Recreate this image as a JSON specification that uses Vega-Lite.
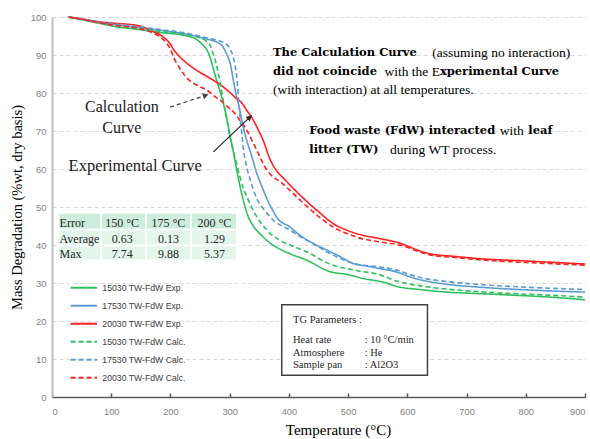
{
"$schema":"https://vega.github.io/schema/vega-lite/v6.json",
"width":533,"height":380,
"autosize":{"type":"none"},
"padding":{"left":52,"top":17,"right":5,"bottom":42},
"background":"white",
"config":{"view":{"stroke":null},
"legend":{"orient":"none","legendX":17.3,"legendY":262,"symbolType":"stroke","symbolSize":700,"symbolStrokeWidth":2,"clipHeight":17.7,"rowPadding":0,"labelFont":"Liberation Sans","labelFontSize":8.7,"labelColor":"#404040","labelOffset":4,"padding":0,"labelLimit":300}},
"encoding":{
"x":{"field":"T","type":"quantitative","scale":{"domain":[0,900],"nice":false},
"axis":{"values":[0,100,200,300,400,500,600,700,800,900],"grid":false,"domainColor":"#595959","domainWidth":1.5,"tickColor":"#595959","tickWidth":1.5,"tickSize":-4,"labelFont":"Liberation Sans","labelFontSize":9.3,"labelColor":"#7f7f7f","labelPadding":14,"title":"Temperature (°C)","titleFont":"Liberation Serif","titleFontSize":15,"titleFontWeight":"normal","titleColor":"#000000","titlePadding":6,"titleX":286}},
"y":{"field":"m","type":"quantitative","scale":{"domain":[0,100],"nice":false},
"axis":{"values":[0,10,20,30,40,50,60,70,80,90,100],"grid":true,"gridDash":[4,3],"gridColor":"#d9d9d9","domainColor":"#bfbfbf","domainWidth":2,"ticks":false,"labelFont":"Liberation Sans","labelFontSize":9.5,"labelColor":"#7f7f7f","labelPadding":6,"title":"Mass Degradation (%wt, dry basis)","titleFont":"Liberation Serif","titleFontSize":14.5,"titleFontWeight":"normal","titleColor":"#000000","titlePadding":6}}
},
"layer":[
{"data":{"values":[
{"s":"15030 TW-FdW Exp.","T":28,"m":100},{"s":"15030 TW-FdW Exp.","T":50,"m":99.3},{"s":"15030 TW-FdW Exp.","T":81.5,"m":98.3},{"s":"15030 TW-FdW Exp.","T":110,"m":97.4},{"s":"15030 TW-FdW Exp.","T":143,"m":96.8},{"s":"15030 TW-FdW Exp.","T":177,"m":96.0},{"s":"15030 TW-FdW Exp.","T":222,"m":95.2},{"s":"15030 TW-FdW Exp.","T":244,"m":94.1},{"s":"15030 TW-FdW Exp.","T":255,"m":92.6},{"s":"15030 TW-FdW Exp.","T":262,"m":91.2},{"s":"15030 TW-FdW Exp.","T":267,"m":89.4},{"s":"15030 TW-FdW Exp.","T":272,"m":86.6},{"s":"15030 TW-FdW Exp.","T":278,"m":83.3},{"s":"15030 TW-FdW Exp.","T":284,"m":80.3},{"s":"15030 TW-FdW Exp.","T":289,"m":77.5},{"s":"15030 TW-FdW Exp.","T":295,"m":73.4},{"s":"15030 TW-FdW Exp.","T":300,"m":69.3},{"s":"15030 TW-FdW Exp.","T":306,"m":64.7},{"s":"15030 TW-FdW Exp.","T":311,"m":60.5},{"s":"15030 TW-FdW Exp.","T":317,"m":55.8},{"s":"15030 TW-FdW Exp.","T":323,"m":51.8},{"s":"15030 TW-FdW Exp.","T":330,"m":48},{"s":"15030 TW-FdW Exp.","T":340,"m":45},{"s":"15030 TW-FdW Exp.","T":352,"m":42.8},{"s":"15030 TW-FdW Exp.","T":374,"m":39.9},{"s":"15030 TW-FdW Exp.","T":402,"m":37.7},{"s":"15030 TW-FdW Exp.","T":430,"m":36},{"s":"15030 TW-FdW Exp.","T":469,"m":33},{"s":"15030 TW-FdW Exp.","T":500,"m":32.2},{"s":"15030 TW-FdW Exp.","T":525,"m":31.2},{"s":"15030 TW-FdW Exp.","T":560,"m":30.2},{"s":"15030 TW-FdW Exp.","T":585,"m":29},{"s":"15030 TW-FdW Exp.","T":620,"m":28.3},{"s":"15030 TW-FdW Exp.","T":666,"m":27.6},{"s":"15030 TW-FdW Exp.","T":722,"m":27.2},{"s":"15030 TW-FdW Exp.","T":778,"m":26.8},{"s":"15030 TW-FdW Exp.","T":840,"m":26.3},{"s":"15030 TW-FdW Exp.","T":900,"m":25.6},
{"s":"17530 TW-FdW Exp.","T":28,"m":100},{"s":"17530 TW-FdW Exp.","T":50,"m":99.4},{"s":"17530 TW-FdW Exp.","T":81.5,"m":98.6},{"s":"17530 TW-FdW Exp.","T":110,"m":97.9},{"s":"17530 TW-FdW Exp.","T":143,"m":97.3},{"s":"17530 TW-FdW Exp.","T":177,"m":96.6},{"s":"17530 TW-FdW Exp.","T":222,"m":95.6},{"s":"17530 TW-FdW Exp.","T":244,"m":94.9},{"s":"17530 TW-FdW Exp.","T":261,"m":94.2},{"s":"17530 TW-FdW Exp.","T":280,"m":93.3},{"s":"17530 TW-FdW Exp.","T":289,"m":92.1},{"s":"17530 TW-FdW Exp.","T":295,"m":90.2},{"s":"17530 TW-FdW Exp.","T":301,"m":87.7},{"s":"17530 TW-FdW Exp.","T":306,"m":83.5},{"s":"17530 TW-FdW Exp.","T":311,"m":79.5},{"s":"17530 TW-FdW Exp.","T":315,"m":77},{"s":"17530 TW-FdW Exp.","T":320,"m":73.2},{"s":"17530 TW-FdW Exp.","T":327,"m":68.5},{"s":"17530 TW-FdW Exp.","T":335,"m":64.5},{"s":"17530 TW-FdW Exp.","T":346,"m":58.8},{"s":"17530 TW-FdW Exp.","T":357,"m":54.4},{"s":"17530 TW-FdW Exp.","T":364,"m":51.8},{"s":"17530 TW-FdW Exp.","T":372,"m":49.3},{"s":"17530 TW-FdW Exp.","T":380,"m":47.2},{"s":"17530 TW-FdW Exp.","T":402,"m":44.7},{"s":"17530 TW-FdW Exp.","T":420,"m":42.4},{"s":"17530 TW-FdW Exp.","T":441,"m":40.4},{"s":"17530 TW-FdW Exp.","T":465,"m":38.6},{"s":"17530 TW-FdW Exp.","T":486,"m":37},{"s":"17530 TW-FdW Exp.","T":509,"m":35.1},{"s":"17530 TW-FdW Exp.","T":530,"m":34.5},{"s":"17530 TW-FdW Exp.","T":553,"m":33.8},{"s":"17530 TW-FdW Exp.","T":582,"m":32.9},{"s":"17530 TW-FdW Exp.","T":605,"m":31.6},{"s":"17530 TW-FdW Exp.","T":626,"m":30.7},{"s":"17530 TW-FdW Exp.","T":660,"m":29.8},{"s":"17530 TW-FdW Exp.","T":722,"m":28.9},{"s":"17530 TW-FdW Exp.","T":800,"m":28.2},{"s":"17530 TW-FdW Exp.","T":900,"m":27.6},
{"s":"20030 TW-FdW Exp.","T":28,"m":100},{"s":"20030 TW-FdW Exp.","T":50,"m":99.5},{"s":"20030 TW-FdW Exp.","T":81.5,"m":98.7},{"s":"20030 TW-FdW Exp.","T":110,"m":98.3},{"s":"20030 TW-FdW Exp.","T":127,"m":98.1},{"s":"20030 TW-FdW Exp.","T":143,"m":97.8},{"s":"20030 TW-FdW Exp.","T":155,"m":97.3},{"s":"20030 TW-FdW Exp.","T":166,"m":96.5},{"s":"20030 TW-FdW Exp.","T":177,"m":95.8},{"s":"20030 TW-FdW Exp.","T":188,"m":94.7},{"s":"20030 TW-FdW Exp.","T":195,"m":93.8},{"s":"20030 TW-FdW Exp.","T":200,"m":92.8},{"s":"20030 TW-FdW Exp.","T":205,"m":91.5},{"s":"20030 TW-FdW Exp.","T":211,"m":90.3},{"s":"20030 TW-FdW Exp.","T":222,"m":88.6},{"s":"20030 TW-FdW Exp.","T":233,"m":87.2},{"s":"20030 TW-FdW Exp.","T":247,"m":85.7},{"s":"20030 TW-FdW Exp.","T":261,"m":84.4},{"s":"20030 TW-FdW Exp.","T":275,"m":83.1},{"s":"20030 TW-FdW Exp.","T":289,"m":81.6},{"s":"20030 TW-FdW Exp.","T":300,"m":80.2},{"s":"20030 TW-FdW Exp.","T":312,"m":78.5},{"s":"20030 TW-FdW Exp.","T":320,"m":77.5},{"s":"20030 TW-FdW Exp.","T":329,"m":75.4},{"s":"20030 TW-FdW Exp.","T":338,"m":73.4},{"s":"20030 TW-FdW Exp.","T":347,"m":70.7},{"s":"20030 TW-FdW Exp.","T":357,"m":67.4},{"s":"20030 TW-FdW Exp.","T":368,"m":62.6},{"s":"20030 TW-FdW Exp.","T":379,"m":59.6},{"s":"20030 TW-FdW Exp.","T":392,"m":57.4},{"s":"20030 TW-FdW Exp.","T":410,"m":54.5},{"s":"20030 TW-FdW Exp.","T":430,"m":51.5},{"s":"20030 TW-FdW Exp.","T":452,"m":48.5},{"s":"20030 TW-FdW Exp.","T":475,"m":45.6},{"s":"20030 TW-FdW Exp.","T":498,"m":43.9},{"s":"20030 TW-FdW Exp.","T":514,"m":43},{"s":"20030 TW-FdW Exp.","T":553,"m":41.7},{"s":"20030 TW-FdW Exp.","T":580,"m":40.8},{"s":"20030 TW-FdW Exp.","T":598,"m":39.9},{"s":"20030 TW-FdW Exp.","T":615,"m":38.8},{"s":"20030 TW-FdW Exp.","T":638,"m":37.7},{"s":"20030 TW-FdW Exp.","T":680,"m":37},{"s":"20030 TW-FdW Exp.","T":722,"m":36.4},{"s":"20030 TW-FdW Exp.","T":800,"m":35.8},{"s":"20030 TW-FdW Exp.","T":900,"m":35},
{"s":"15030 TW-FdW Calc.","T":28,"m":100},{"s":"15030 TW-FdW Calc.","T":50,"m":99.4},{"s":"15030 TW-FdW Calc.","T":81.5,"m":98.5},{"s":"15030 TW-FdW Calc.","T":110,"m":97.6},{"s":"15030 TW-FdW Calc.","T":143,"m":97},{"s":"15030 TW-FdW Calc.","T":177,"m":96.3},{"s":"15030 TW-FdW Calc.","T":222,"m":95.5},{"s":"15030 TW-FdW Calc.","T":244,"m":94.8},{"s":"15030 TW-FdW Calc.","T":261,"m":93.6},{"s":"15030 TW-FdW Calc.","T":268,"m":92.3},{"s":"15030 TW-FdW Calc.","T":272,"m":90.4},{"s":"15030 TW-FdW Calc.","T":277,"m":87.8},{"s":"15030 TW-FdW Calc.","T":281,"m":85.1},{"s":"15030 TW-FdW Calc.","T":285,"m":81.8},{"s":"15030 TW-FdW Calc.","T":289,"m":78.1},{"s":"15030 TW-FdW Calc.","T":295,"m":73.2},{"s":"15030 TW-FdW Calc.","T":300,"m":68.8},{"s":"15030 TW-FdW Calc.","T":306,"m":64.9},{"s":"15030 TW-FdW Calc.","T":312,"m":61.2},{"s":"15030 TW-FdW Calc.","T":318,"m":57.6},{"s":"15030 TW-FdW Calc.","T":324,"m":54.6},{"s":"15030 TW-FdW Calc.","T":331,"m":52},{"s":"15030 TW-FdW Calc.","T":340,"m":49},{"s":"15030 TW-FdW Calc.","T":346,"m":47.4},{"s":"15030 TW-FdW Calc.","T":363,"m":43.9},{"s":"15030 TW-FdW Calc.","T":385,"m":41.2},{"s":"15030 TW-FdW Calc.","T":402,"m":40},{"s":"15030 TW-FdW Calc.","T":430,"m":38.2},{"s":"15030 TW-FdW Calc.","T":469,"m":35},{"s":"15030 TW-FdW Calc.","T":514,"m":33.3},{"s":"15030 TW-FdW Calc.","T":553,"m":32.2},{"s":"15030 TW-FdW Calc.","T":582,"m":30.5},{"s":"15030 TW-FdW Calc.","T":620,"m":29.3},{"s":"15030 TW-FdW Calc.","T":666,"m":28.4},{"s":"15030 TW-FdW Calc.","T":722,"m":27.7},{"s":"15030 TW-FdW Calc.","T":778,"m":27.2},{"s":"15030 TW-FdW Calc.","T":840,"m":26.8},{"s":"15030 TW-FdW Calc.","T":900,"m":26.3},
{"s":"17530 TW-FdW Calc.","T":28,"m":100},{"s":"17530 TW-FdW Calc.","T":50,"m":99.5},{"s":"17530 TW-FdW Calc.","T":81.5,"m":98.7},{"s":"17530 TW-FdW Calc.","T":110,"m":98.1},{"s":"17530 TW-FdW Calc.","T":143,"m":97.5},{"s":"17530 TW-FdW Calc.","T":177,"m":96.8},{"s":"17530 TW-FdW Calc.","T":222,"m":95.9},{"s":"17530 TW-FdW Calc.","T":261,"m":94.5},{"s":"17530 TW-FdW Calc.","T":285,"m":93.6},{"s":"17530 TW-FdW Calc.","T":295,"m":92.8},{"s":"17530 TW-FdW Calc.","T":301,"m":91.5},{"s":"17530 TW-FdW Calc.","T":306,"m":89.5},{"s":"17530 TW-FdW Calc.","T":310,"m":86.5},{"s":"17530 TW-FdW Calc.","T":313,"m":82.5},{"s":"17530 TW-FdW Calc.","T":315,"m":78.5},{"s":"17530 TW-FdW Calc.","T":317,"m":74.8},{"s":"17530 TW-FdW Calc.","T":320,"m":70},{"s":"17530 TW-FdW Calc.","T":323,"m":65.5},{"s":"17530 TW-FdW Calc.","T":328,"m":61},{"s":"17530 TW-FdW Calc.","T":335,"m":57},{"s":"17530 TW-FdW Calc.","T":345,"m":52.5},{"s":"17530 TW-FdW Calc.","T":357,"m":49.5},{"s":"17530 TW-FdW Calc.","T":374,"m":46.5},{"s":"17530 TW-FdW Calc.","T":402,"m":43.9},{"s":"17530 TW-FdW Calc.","T":420,"m":42.1},{"s":"17530 TW-FdW Calc.","T":441,"m":40.4},{"s":"17530 TW-FdW Calc.","T":465,"m":38.1},{"s":"17530 TW-FdW Calc.","T":486,"m":36.5},{"s":"17530 TW-FdW Calc.","T":514,"m":35},{"s":"17530 TW-FdW Calc.","T":553,"m":34.2},{"s":"17530 TW-FdW Calc.","T":582,"m":33.4},{"s":"17530 TW-FdW Calc.","T":605,"m":32.2},{"s":"17530 TW-FdW Calc.","T":626,"m":31.3},{"s":"17530 TW-FdW Calc.","T":660,"m":30.5},{"s":"17530 TW-FdW Calc.","T":722,"m":29.6},{"s":"17530 TW-FdW Calc.","T":800,"m":28.9},{"s":"17530 TW-FdW Calc.","T":900,"m":28.3},
{"s":"20030 TW-FdW Calc.","T":28,"m":100},{"s":"20030 TW-FdW Calc.","T":50,"m":99.4},{"s":"20030 TW-FdW Calc.","T":81.5,"m":98.4},{"s":"20030 TW-FdW Calc.","T":110,"m":97.7},{"s":"20030 TW-FdW Calc.","T":143,"m":97.1},{"s":"20030 TW-FdW Calc.","T":166,"m":96.1},{"s":"20030 TW-FdW Calc.","T":183,"m":94.7},{"s":"20030 TW-FdW Calc.","T":194,"m":93},{"s":"20030 TW-FdW Calc.","T":200,"m":91.5},{"s":"20030 TW-FdW Calc.","T":205,"m":89.5},{"s":"20030 TW-FdW Calc.","T":213,"m":87.2},{"s":"20030 TW-FdW Calc.","T":222,"m":85.1},{"s":"20030 TW-FdW Calc.","T":233,"m":83.2},{"s":"20030 TW-FdW Calc.","T":244,"m":82.1},{"s":"20030 TW-FdW Calc.","T":261,"m":80.8},{"s":"20030 TW-FdW Calc.","T":278,"m":78.7},{"s":"20030 TW-FdW Calc.","T":289,"m":77.5},{"s":"20030 TW-FdW Calc.","T":298,"m":76.2},{"s":"20030 TW-FdW Calc.","T":309,"m":74.6},{"s":"20030 TW-FdW Calc.","T":319,"m":72.4},{"s":"20030 TW-FdW Calc.","T":329,"m":70.2},{"s":"20030 TW-FdW Calc.","T":337,"m":67.7},{"s":"20030 TW-FdW Calc.","T":346,"m":64.9},{"s":"20030 TW-FdW Calc.","T":354,"m":62.2},{"s":"20030 TW-FdW Calc.","T":363,"m":59.7},{"s":"20030 TW-FdW Calc.","T":375,"m":57.7},{"s":"20030 TW-FdW Calc.","T":385,"m":56.7},{"s":"20030 TW-FdW Calc.","T":396,"m":55.2},{"s":"20030 TW-FdW Calc.","T":419,"m":51.8},{"s":"20030 TW-FdW Calc.","T":430,"m":50.2},{"s":"20030 TW-FdW Calc.","T":452,"m":47.3},{"s":"20030 TW-FdW Calc.","T":475,"m":44.7},{"s":"20030 TW-FdW Calc.","T":498,"m":43},{"s":"20030 TW-FdW Calc.","T":514,"m":42.1},{"s":"20030 TW-FdW Calc.","T":553,"m":40.8},{"s":"20030 TW-FdW Calc.","T":580,"m":40.2},{"s":"20030 TW-FdW Calc.","T":598,"m":39.5},{"s":"20030 TW-FdW Calc.","T":615,"m":38.5},{"s":"20030 TW-FdW Calc.","T":638,"m":37.4},{"s":"20030 TW-FdW Calc.","T":680,"m":36.7},{"s":"20030 TW-FdW Calc.","T":722,"m":36.1},{"s":"20030 TW-FdW Calc.","T":800,"m":35.4},{"s":"20030 TW-FdW Calc.","T":900,"m":34.7}
]},
"mark":{"type":"line","strokeWidth":1.6,"interpolate":"monotone"},
"encoding":{
"color":{"field":"s","type":"nominal","title":null,"scale":{"domain":["15030 TW-FdW Exp.","17530 TW-FdW Exp.","20030 TW-FdW Exp.","15030 TW-FdW Calc.","17530 TW-FdW Calc.","20030 TW-FdW Calc."],"range":["#2fbf5f","#5b9bd5","#ff2020","#2fbf5f","#5b9bd5","#ff2020"]}},
"strokeDash":{"field":"s","type":"nominal","title":null,"scale":{"domain":["15030 TW-FdW Exp.","17530 TW-FdW Exp.","20030 TW-FdW Exp.","15030 TW-FdW Calc.","17530 TW-FdW Calc.","20030 TW-FdW Calc."],"range":[[1,0],[1,0],[1,0],[5,3],[5,3],[5,3]]}}
}},
{"data":{"values":[{"T":11.1,"T2":83.1,"m":44.05,"m2":48.4},{"T":83.1,"T2":159,"m":44.05,"m2":48.4},{"T":159,"T2":235,"m":44.05,"m2":48.4},{"T":235,"T2":312,"m":44.05,"m2":48.4}]},
"mark":{"type":"rect","fill":"#cdeedc","stroke":"white","strokeWidth":1.5},
"encoding":{"x2":{"field":"T2"},"y2":{"field":"m2"}}},
{"data":{"values":[{"T":11.1,"T2":83.1,"m":39.9,"m2":44.05},{"T":83.1,"T2":159,"m":39.9,"m2":44.05},{"T":159,"T2":235,"m":39.9,"m2":44.05},{"T":235,"T2":312,"m":39.9,"m2":44.05},{"T":11.1,"T2":83.1,"m":35.97,"m2":39.9},{"T":83.1,"T2":159,"m":35.97,"m2":39.9},{"T":159,"T2":235,"m":35.97,"m2":39.9},{"T":235,"T2":312,"m":35.97,"m2":39.9}]},
"mark":{"type":"rect","fill":"#e4f5ec","stroke":"white","strokeWidth":1.5},
"encoding":{"x2":{"field":"T2"},"y2":{"field":"m2"}}},
{"data":{"values":[{"T":12.8,"m":45.8,"label":"Error"},{"T":12.8,"m":41.7,"label":"Average"},{"T":12.8,"m":37.6,"label":"Max"}]},
"mark":{"type":"text","font":"Liberation Serif","fontSize":12,"color":"#262626","align":"left","baseline":"middle"},
"encoding":{"text":{"field":"label"}}},
{"data":{"values":[{"T":118.5,"m":45.8,"label":"150 °C"},{"T":196.6,"m":45.8,"label":"175 °C"},{"T":274.2,"m":45.8,"label":"200 °C"},{"T":118.5,"m":41.7,"label":"0.63"},{"T":196.6,"m":41.7,"label":"0.13"},{"T":274.2,"m":41.7,"label":"1.29"},{"T":118.5,"m":37.6,"label":"7.74"},{"T":196.6,"m":37.6,"label":"9.88"},{"T":274.2,"m":37.6,"label":"5.37"}]},
"mark":{"type":"text","font":"Liberation Serif","fontSize":12,"color":"#262626","align":"center","baseline":"middle"},
"encoding":{"text":{"field":"label"}}},
{"data":{"values":[{"T":387.9,"T2":634,"m":5.7,"m2":24.3}]},
"mark":{"type":"rect","fill":"white","stroke":"#404040","strokeWidth":1.5},
"encoding":{"x2":{"field":"T2"},"y2":{"field":"m2"}}},
{"data":{"values":[{"T":407,"m":20.2,"label":"TG Parameters :"},{"T":407,"m":15.1,"label":"Heat rate"},{"T":407,"m":11.6,"label":"Atmosphere"},{"T":407,"m":8.3,"label":"Sample pan"},{"T":528,"m":15.1,"label":": 10 °C/min"},{"T":528,"m":11.6,"label":": He"},{"T":528,"m":8.3,"label":": Al2O3"}]},
"mark":{"type":"text","font":"Liberation Serif","fontSize":10.5,"color":"#262626","align":"left","baseline":"middle"},
"encoding":{"text":{"field":"label"}}},
{"data":{"values":[{"T":272.5,"m":64.5,"T2":337.3,"m2":74.1}]},
"mark":{"type":"rule","color":"#262626","strokeWidth":1.2},
"encoding":{"x2":{"field":"T2"},"y2":{"field":"m2"}}},
{"data":{"values":[{"T":199.5,"m":76.3,"T2":264,"m2":79.6}]},
"mark":{"type":"rule","color":"#404040","strokeWidth":1.2,"strokeDash":[4,3]},
"encoding":{"x2":{"field":"T2"},"y2":{"field":"m2"}}},
{"data":{"values":[{"T":259.5,"m":79.35}]},
"mark":{"type":"point","shape":"triangle-up","filled":true,"size":40,"angle":72,"color":"#404040","opacity":1},
"encoding":{}},
{"data":{"values":[{"T":333.8,"m":73.6}]},
"mark":{"type":"point","shape":"triangle-up","filled":true,"size":40,"angle":46,"color":"#262626","opacity":1},
"encoding":{}},
{"data":{"values":[{"T":118,"m":76.3,"label":"Calculation"},{"T":118,"m":70.8,"label":"Curve"}]},
"mark":{"type":"text","font":"Liberation Serif","fontSize":16,"color":"#1a1a1a","align":"center","baseline":"middle"},
"encoding":{"text":{"field":"label"}}},
{"data":{"values":[{"T":28,"m":60.8,"label":"Experimental Curve"}]},
"mark":{"type":"text","font":"Liberation Serif","fontSize":16.5,"color":"#1a1a1a","align":"left","baseline":"middle"},
"encoding":{"text":{"field":"label"}}},
{"data":{"values":[{"T":373.2,"m":90.4,"label":"The Calculation Curve"},{"T":373.2,"m":85.5,"label":"did not coincide"},{"T":434.4,"m":69.9,"label":"Food waste (FdW) interacted"},{"T":434.4,"m":65.1,"label":"litter (TW)"},{"T":655,"m":85.5,"label":"xperimental Curve"}]},
"mark":{"type":"text","font":"DejaVu Serif","fontSize":11.5,"fontWeight":"bold","color":"#000000","align":"left","baseline":"middle"},
"encoding":{"text":{"field":"label"}}},
{"data":{"values":[{"T":845,"m":69.9,"label":"leaf"}]},
"mark":{"type":"text","font":"DejaVu Serif","fontSize":11.5,"fontWeight":"bold","color":"#000000","align":"right","baseline":"middle"},
"encoding":{"text":{"field":"label"}}},
{"data":{"values":[{"T":373.2,"m":80.7,"label":"(with interaction) at all temperatures."}]},
"mark":{"type":"text","font":"Liberation Serif","fontSize":13.5,"color":"#000000","align":"left","baseline":"middle"},
"encoding":{"text":{"field":"label"}}},
{"data":{"values":[{"T":875.2,"m":90.4,"label":"(assuming no interaction)"},{"T":750.4,"m":65.1,"label":"during WT process."},{"T":655,"m":85.5,"label":"with the E"}]},
"mark":{"type":"text","font":"Liberation Serif","fontSize":13.5,"color":"#000000","align":"right","baseline":"middle"},
"encoding":{"text":{"field":"label"}}},
{"data":{"values":[{"T":776.5,"m":69.9,"label":"with"}]},
"mark":{"type":"text","font":"Liberation Serif","fontSize":13.5,"color":"#000000","align":"center","baseline":"middle"},
"encoding":{"text":{"field":"label"}}}
]
}
